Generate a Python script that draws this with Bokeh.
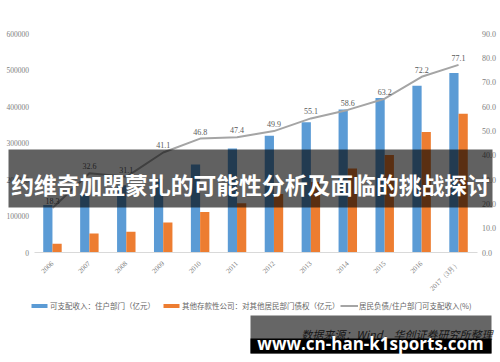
from math import pi
from bokeh.plotting import figure
from bokeh.models import (Range1d, LinearAxis, FixedTicker, NumeralTickFormatter,
                          CustomJSTickFormatter, BoxAnnotation, Label, Legend, LegendItem,
                          ColumnDataSource)
from bokeh.transform import dodge
from bokeh.core.properties import value
from bokeh.embed import file_html
from bokeh.resources import INLINE

# ---------------- data ----------------
years = ["2006", "2007", "2008", "2009", "2010", "2011", "2012", "2013",
         "2014", "2015", "2016", "2017（3月）"]
income = [130000, 158000, 184000, 202000, 241000, 285000, 320000, 357000,
          392000, 423000, 457000, 492000]
loans = [24000, 52000, 57000, 82000, 111000, 135000, 160000, 193000,
         230000, 267000, 330000, 380000]
ratio = [18.3, 32.6, 31.1, 41.1, 46.8, 47.4, 49.9, 55.1, 58.6, 63.2, 72.2, 77.1]
ratio_labels = ["%.1f" % v for v in ratio]
left_ticks = [0, 100000, 200000, 300000, 400000, 500000, 600000]
right_ticks = [0, 10, 20, 30, 40, 50, 60, 70, 80, 90]
legend_labels = ["可支配收入：住户部门（亿元）",
                 "其他存款性公司：对其他居民部门债权（亿元）",
                 "居民负债/住户部门可支配收入(%)"]
title_text = "约维奇加盟蒙扎的可能性分析及面临的挑战探讨"
watermark = "www.cn-han-k1sports.com"
source_note = "数据来源：Wind，华创证券研究所整理"

idx = list(range(len(years)))

# ---------------- layout (page pixels) ----------------
W, H = 500, 362              # the frame covers the whole canvas
X0_PX, X1_PX = 33.5, 476.5   # left / right edge of the category band
Y0_PX, YTOP_PX = 252, 33     # pixel rows of value 0 and of the top tick
LMAX, RMAX = left_ticks[-1], right_ticks[-1]

unit = (X1_PX - X0_PX) / len(years)
span = Y0_PX - YTOP_PX


def dx(px):
    return -0.5 + (px - X0_PX) / unit


def dy(py):
    return (Y0_PX - py) / span * LMAX


src = ColumnDataSource(dict(i=idx, income=income, loans=loans,
                            ratio=ratio, lbl=ratio_labels))

p = figure(width=W, height=H,
           x_range=Range1d(dx(0), dx(W)),
           y_range=Range1d(-(H - Y0_PX) / span * LMAX, Y0_PX / span * LMAX),
           output_backend="svg", toolbar_location=None,
           min_border_left=0, min_border_right=0, min_border_top=0,
           min_border_bottom=0)
p.extra_y_ranges = {"right": Range1d(-(H - Y0_PX) / span * RMAX, Y0_PX / span * RMAX)}
p.outline_line_color = None
p.xgrid.visible = False
p.ygrid.visible = False
p.background_fill_color = "white"
p.border_fill_color = "white"

GRAY = "#808080"
ax = p.xaxis[0]
ax.fixed_location = 0
ax.bounds = (-0.5, len(years) - 0.5)
ax.ticker = FixedTicker(ticks=idx)
ax.formatter = CustomJSTickFormatter(args=dict(labels=years),
                                     code="return labels[Math.round(tick)]")
ax.major_label_orientation = pi / 4
ax.major_label_text_font = "Liberation Serif"
ax.major_label_text_font_size = "7px"
ax.major_label_text_color = GRAY
ax.axis_line_color = "#d9d9d9"
ax.major_tick_line_color = None
ax.minor_tick_line_color = None
ax.major_label_standoff = 4

ly = p.yaxis[0]
ly.fixed_location = -0.5
ly.ticker = FixedTicker(ticks=left_ticks)
ly.formatter = NumeralTickFormatter(format="0")
ly.major_label_text_font = "Liberation Serif"
ly.major_label_text_font_size = "7.5px"
ly.major_label_text_color = GRAY
ly.axis_line_color = None
ly.major_tick_line_color = None
ly.minor_tick_line_color = None
ly.major_tick_out = 0
ly.major_label_standoff = 5

ry = LinearAxis(y_range_name="right", ticker=FixedTicker(ticks=right_ticks),
                formatter=NumeralTickFormatter(format="0.0"))
ry.fixed_location = len(years) - 0.5
ry.major_label_text_font = "Liberation Serif"
ry.major_label_text_font_size = "8px"
ry.major_label_text_color = GRAY
ry.axis_line_color = None
ry.major_tick_line_color = None
ry.minor_tick_line_color = None
ry.major_tick_out = 0
ry.major_label_standoff = 5
p.add_layout(ry, "right")

r_inc = p.vbar(x=dodge("i", -0.125), top="income", width=0.25,
               source=src, fill_color="#5b9bd5", line_color=None)
r_loan = p.vbar(x=dodge("i", 0.125), top="loans", width=0.25,
                source=src, fill_color="#ed7d31", line_color=None)
r_line = p.line("i", "ratio", y_range_name="right", source=src,
                line_color="#a5a5a5", line_width=2)
p.text("i", "ratio", text="lbl", y_range_name="right", source=src,
       text_align="center", text_baseline="bottom", y_offset=-4,
       text_font=value("Liberation Serif"), text_font_size="8px", text_color="#595959")

# legends (three single-item legends below the plot area)
LEG_ROW = 306
leg_specs = [(r_inc, legend_labels[0], 29, 20),
             (r_loan, legend_labels[1], 161, 20),
             (r_line, legend_labels[2], 340, 18)]
for rend, lab, lx, gw in leg_specs:
    lg = Legend(items=[LegendItem(label=lab, renderers=[rend])],
                location=(lx, H - LEG_ROW - 4.5),
                orientation="horizontal", padding=0, margin=0, spacing=0,
                glyph_width=gw, glyph_height=5, label_height=9, label_standoff=1,
                label_text_font="Noto Sans CJK SC", label_text_font_size="7.5px",
                label_text_color="#666666", border_line_alpha=0,
                background_fill_alpha=0)
    p.add_layout(lg)

# overlay: title band
p.add_layout(BoxAnnotation(left=dx(8), right=dx(492), top=dy(149), bottom=dy(207),
                           fill_color="black", fill_alpha=0.62, line_alpha=0,
                           level="overlay"))
p.add_layout(Label(x=dx(250), y=dy(184), text=title_text, text_align="center",
                   text_baseline="middle", text_font="Noto Sans CJK SC",
                   text_font_style="bold", text_font_size="22.8px", text_color="white",
                   level="overlay"))

# source note (mostly hidden) and URL band
p.add_layout(Label(x=dx(492), y=dy(333), text=source_note, text_align="right",
                   text_baseline="middle", text_font="Noto Sans CJK SC",
                   text_font_style="italic", text_font_size="11px", text_color="#3a3a3a",
                   level="overlay"))
p.add_layout(BoxAnnotation(left=dx(250), right=dx(491), top=dy(315), bottom=dy(353),
                           fill_color="black", fill_alpha=0.6, line_alpha=0,
                           level="overlay"))
p.add_layout(BoxAnnotation(left=dx(250), right=dx(491), top=dy(338), bottom=dy(353),
                           fill_color="black", fill_alpha=1.0, line_alpha=0,
                           level="overlay"))
p.add_layout(Label(x=dx(370), y=dy(343), text=watermark, text_align="center",
                   text_baseline="alphabetic", text_font="Open Sans",
                   text_font_style="bold", text_font_size="17px", text_color="white",
                   level="overlay"))

open("out.html", "w").write(file_html(p, INLINE))
